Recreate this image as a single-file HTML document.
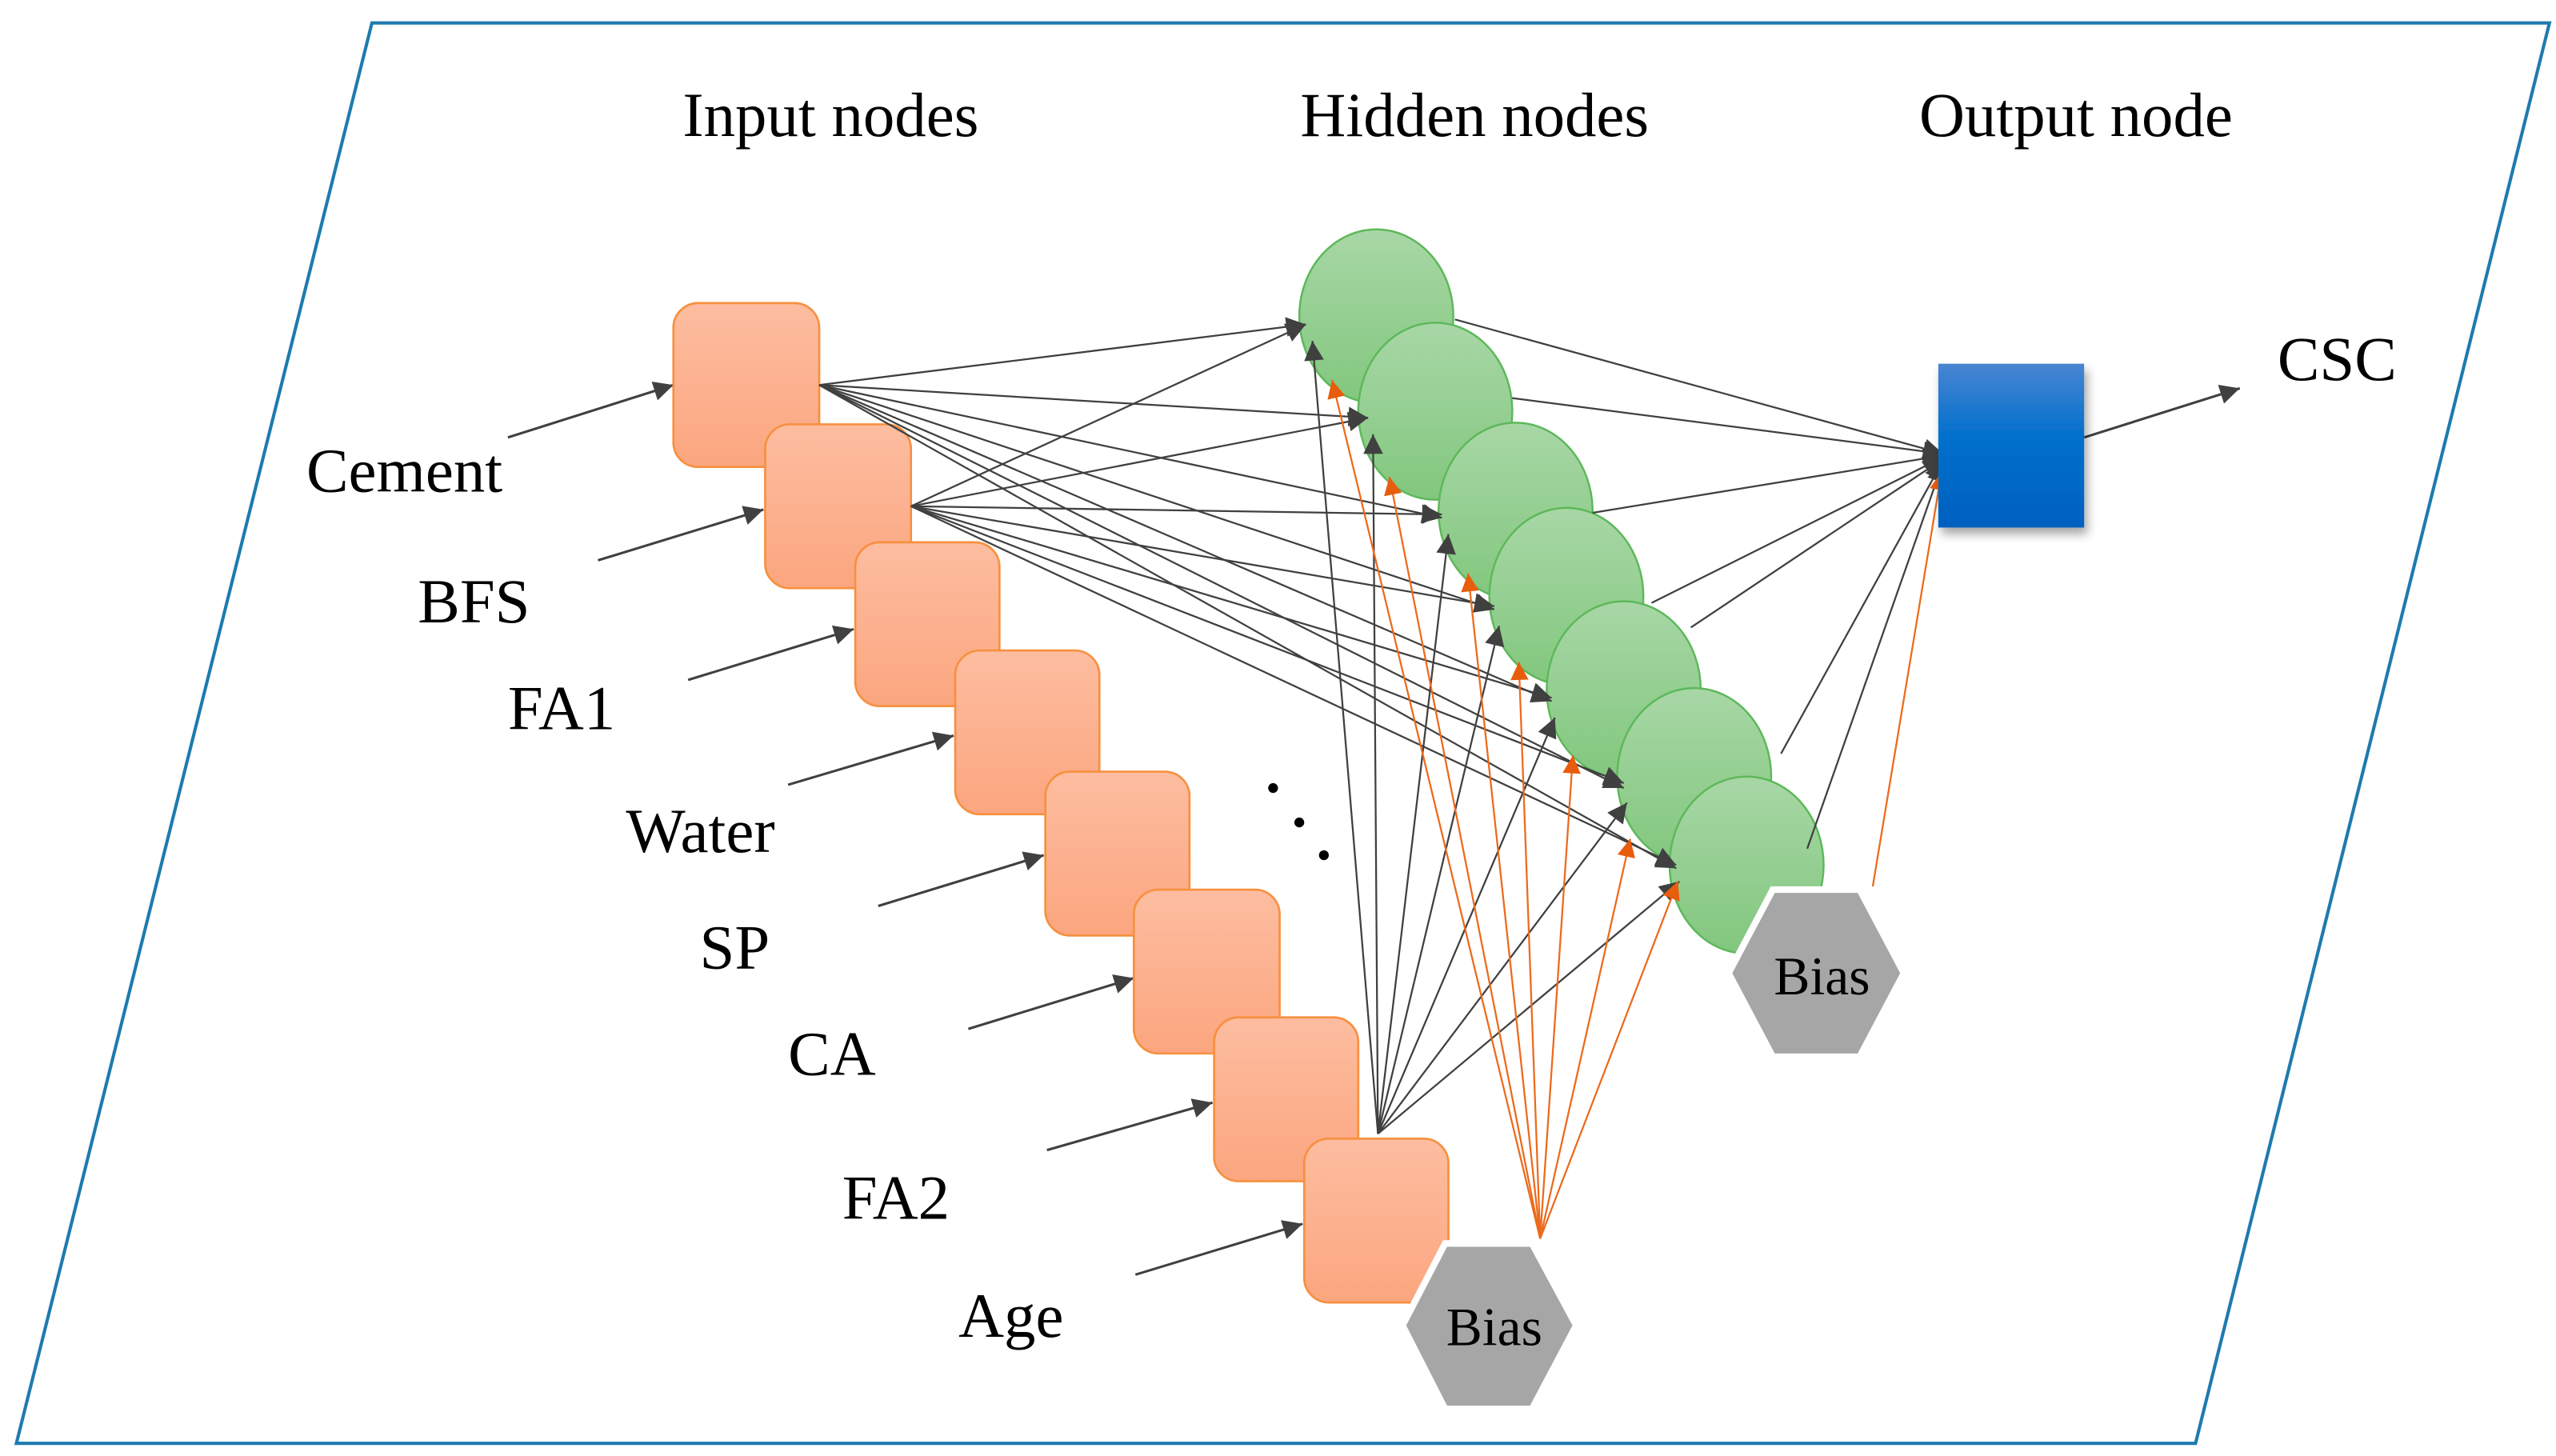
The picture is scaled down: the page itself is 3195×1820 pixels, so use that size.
<!DOCTYPE html>
<html><head><meta charset="utf-8">
<style>
html,body{margin:0;padding:0;background:#fff;}
svg{display:block;}
text{font-family:"Liberation Serif",serif;fill:#000;}
</style></head>
<body>
<svg width="3195" height="1820" viewBox="0 0 1560 888.7" preserveAspectRatio="none" xmlns="http://www.w3.org/2000/svg">
<defs>
<linearGradient id="og" x1="0" y1="0" x2="0" y2="1"><stop offset="0" stop-color="#fdbda0"/><stop offset="1" stop-color="#fba67f"/></linearGradient>
<linearGradient id="gg" x1="0" y1="0" x2="0" y2="1"><stop offset="0" stop-color="#a8d7a6"/><stop offset="1" stop-color="#82c77e"/></linearGradient>
<linearGradient id="bg" x1="0" y1="0" x2="0" y2="1"><stop offset="0" stop-color="#4a85d2"/><stop offset="0.45" stop-color="#0070cc"/><stop offset="1" stop-color="#0060c0"/></linearGradient>
<marker id="ma" viewBox="0 0 10 10" refX="10" refY="5" markerWidth="14" markerHeight="12" markerUnits="userSpaceOnUse" orient="auto"><path d="M0,0 L10,5 L0,10 z" fill="#404040"/></marker>
<marker id="mo" viewBox="0 0 10 10" refX="10" refY="5" markerWidth="13" markerHeight="11" markerUnits="userSpaceOnUse" orient="auto"><path d="M0,0 L10,5 L0,10 z" fill="#e85d0c"/></marker>
<filter id="sh" x="-20%" y="-20%" width="150%" height="150%"><feDropShadow dx="2" dy="4" stdDeviation="3" flood-color="#000" flood-opacity="0.35"/></filter>
</defs>

<polygon points="227,14 1556,14 1340,881 10,881" fill="#fff" stroke="#1f7ab0" stroke-width="2"/>

<text x="507" y="83" font-size="38.5" text-anchor="middle">Input nodes</text>
<text x="900" y="83" font-size="38.5" text-anchor="middle">Hidden nodes</text>
<text x="1267" y="83" font-size="38.5" text-anchor="middle">Output node</text>

<g font-size="38.5">
<text x="187" y="300">Cement</text>
<text x="255" y="380">BFS</text>
<text x="310" y="445">FA1</text>
<text x="382" y="520">Water</text>
<text x="427" y="591">SP</text>
<text x="481" y="656">CA</text>
<text x="514" y="744">FA2</text>
<text x="585" y="816">Age</text>
<text x="1390" y="232">CSC</text>
</g>

<g stroke="#404040" stroke-width="1.5" marker-end="url(#ma)">
<line x1="310" y1="267" x2="411" y2="235"/>
<line x1="365" y1="342" x2="466" y2="311"/>
<line x1="420" y1="415" x2="521" y2="384"/>
<line x1="481" y1="479" x2="582" y2="449"/>
<line x1="536" y1="553" x2="637" y2="522"/>
<line x1="591" y1="628" x2="692" y2="597"/>
<line x1="639" y1="702" x2="740" y2="673"/>
<line x1="693" y1="778" x2="795" y2="747"/>
<line x1="1272" y1="267" x2="1367" y2="237"/>
</g>

<g fill="url(#og)" stroke="#f7903f" stroke-width="1.3">
<rect x="411" y="185" width="89" height="100" rx="15"/>
<rect x="467" y="259" width="89" height="100" rx="15"/>
<rect x="522" y="331" width="88" height="100" rx="15"/>
<rect x="583" y="397" width="88" height="100" rx="15"/>
<rect x="638" y="471" width="88" height="100" rx="15"/>
<rect x="692" y="543" width="89" height="100" rx="15"/>
<rect x="741" y="621" width="88" height="100" rx="15"/>
<rect x="796" y="695" width="88" height="100" rx="15"/>
</g>

<g fill="url(#gg)" stroke="#5db85a" stroke-width="1.2">
<ellipse cx="840" cy="193" rx="47" ry="53"/>
<ellipse cx="876" cy="251" rx="47" ry="54"/>
<ellipse cx="925" cy="312" rx="47" ry="54"/>
<ellipse cx="956" cy="364" rx="47" ry="54"/>
<ellipse cx="991" cy="421" rx="47" ry="54"/>
<ellipse cx="1034" cy="474" rx="47" ry="54"/>
<ellipse cx="1066" cy="528" rx="47" ry="54"/>
</g>

<g stroke="#404040" stroke-width="1.1" marker-end="url(#ma)">
<line x1="500" y1="235" x2="797" y2="198"/>
<line x1="500" y1="235" x2="835" y2="255"/>
<line x1="500" y1="235" x2="880" y2="316"/>
<line x1="500" y1="235" x2="912" y2="372"/>
<line x1="500" y1="235" x2="947" y2="428"/>
<line x1="500" y1="235" x2="991" y2="481"/>
<line x1="500" y1="235" x2="1023" y2="530"/>
<line x1="556" y1="309" x2="797" y2="198"/>
<line x1="556" y1="309" x2="835" y2="255"/>
<line x1="556" y1="309" x2="880" y2="314"/>
<line x1="556" y1="309" x2="912" y2="370"/>
<line x1="556" y1="309" x2="947" y2="426"/>
<line x1="556" y1="309" x2="991" y2="478"/>
<line x1="556" y1="309" x2="1023" y2="528"/>
</g>

<g stroke="#404040" stroke-width="1.1" marker-end="url(#ma)">
<line x1="841" y1="692" x2="801" y2="208"/>
<line x1="841" y1="692" x2="838" y2="265"/>
<line x1="841" y1="692" x2="884" y2="326"/>
<line x1="841" y1="692" x2="915" y2="382"/>
<line x1="841" y1="692" x2="949" y2="438"/>
<line x1="841" y1="692" x2="993" y2="490"/>
<line x1="841" y1="692" x2="1025" y2="538"/>
</g>

<g stroke="#ec6a1c" stroke-width="1.1" marker-end="url(#mo)">
<line x1="940" y1="756" x2="813" y2="232"/>
<line x1="940" y1="756" x2="848" y2="291"/>
<line x1="940" y1="756" x2="896" y2="350"/>
<line x1="940" y1="756" x2="927" y2="404"/>
<line x1="940" y1="756" x2="960" y2="461"/>
<line x1="940" y1="756" x2="995" y2="512"/>
<line x1="940" y1="756" x2="1024" y2="538"/>
</g>

<g stroke="#404040" stroke-width="1.1" marker-end="url(#ma)">
<line x1="888" y1="195" x2="1186" y2="277"/>
<line x1="923" y1="243" x2="1186" y2="277"/>
<line x1="972" y1="313" x2="1186" y2="278"/>
<line x1="1008" y1="368" x2="1186" y2="279"/>
<line x1="1032" y1="383" x2="1186" y2="280"/>
<line x1="1087" y1="460" x2="1186" y2="281"/>
<line x1="1103" y1="518" x2="1186" y2="282"/>
</g>
<line x1="1143" y1="541" x2="1185" y2="288" stroke="#ec6a1c" stroke-width="1.1" marker-end="url(#mo)"/>

<rect x="1183" y="222" width="89" height="100" fill="url(#bg)" filter="url(#sh)"/>

<g fill="#000">
<circle cx="777" cy="481" r="3"/>
<circle cx="793" cy="502" r="3"/>
<circle cx="808" cy="522" r="3"/>
</g>

<g fill="#a6a6a6" stroke="#fff" stroke-width="4">
<polygon points="882,759 935,759 962,809 935,860 882,860 856,809"/>
<polygon points="1082,543 1135,543 1162,594 1135,645 1082,645 1055,594"/>
</g>
<text x="912" y="821" font-size="33" text-anchor="middle">Bias</text>
<text x="1112" y="607" font-size="33" text-anchor="middle">Bias</text>
</svg>
</body></html>
